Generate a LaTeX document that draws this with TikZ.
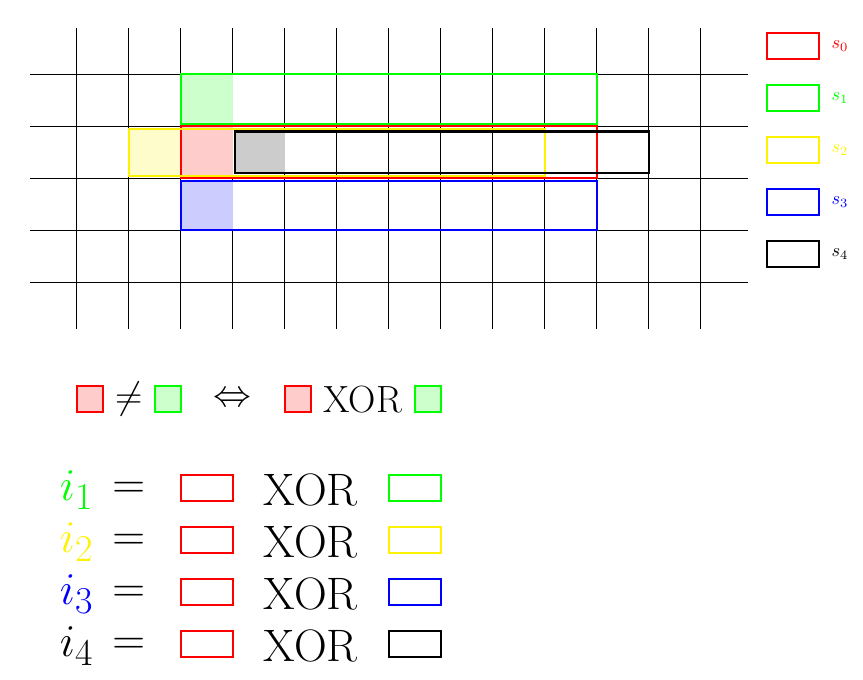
\documentclass[tikz,border=0pt]{standalone}
\usepackage{amsmath,amssymb}
\usepackage{tikz}
\usetikzlibrary{positioning}

\begin{document}
\begin{tikzpicture}[
  gridline/.style={line width=0.5pt},
  stripe/.style={very thick},
  keybox/.style={draw, very thick, minimum width=1cm, minimum height=0.5cm, inner sep=0pt},
  bitbox/.style={draw, very thick, minimum size=0.5cm, inner sep=0pt}
]
  \useasboundingbox (-1.475,-7.63) rectangle (15.12,5.43);
  \foreach \x in {0,...,12} \draw[gridline] (\x,-0.9) -- (\x,4.9);
  \foreach \y in {0,...,4} \draw[gridline] (-0.9,\y) -- (12.9,\y);

  \fill[green!20] (2,3.05) rectangle (3,4);
  \fill[red!20] (2,2) rectangle (3,3);
  \fill[yellow!20] (1,2.05) rectangle (2,2.95);
  \fill[blue!20] (2,1) rectangle (3,1.95);
  \fill[black!20] (3.05,2.1) rectangle (4,2.9);
  \draw[stripe, red] (2,2) rectangle (10,3);
  \draw[stripe, green] (2,3.05) rectangle (10,4);
  \draw[stripe, yellow] (1,2.05) rectangle (9,2.95);
  \draw[stripe, blue] (2,1) rectangle (10,1.95);
  \draw[stripe, black] (3.05,2.1) rectangle (11,2.9);

  \foreach \col [count=\k from 0] in {red,green,yellow,blue,black} {
    \node[keybox, draw=\col] (key\k) at (13.77,4.55-\k) {};
    \node[text=\col, right=0.1cm of key\k] (lab\k) {$s_\k$};
  }

  \node[bitbox, draw=red, fill=red!20] (pa) at (0.25,-2.25) {};
  \node (neq) at (1,-2.25) {\huge $\neq$};
  \node[bitbox, draw=green, fill=green!20] (pb) at (1.75,-2.25) {};
  \node (iff) at (3,-2.25) {\huge $\Leftrightarrow$};
  \node[bitbox, draw=red, fill=red!20] (qa) at (4.25,-2.25) {};
  \node (xor) at (5.5,-2.25) {\huge XOR};
  \node[bitbox, draw=green, fill=green!20] (qb) at (6.75,-2.25) {};

  \foreach \col [count=\k] in {green,yellow,blue,black} {
    \node[text=\col] (i\k) at (0,-3-\k) {\Huge $i_\k$};
    \node (eq\k) at (1,-3-\k) {\Huge $=$};
    \node[keybox, draw=red] (ra\k) at (2.5,-2.95-\k) {};
    \node (x\k) at (4.5,-3-\k) {\Huge XOR};
    \node[keybox, draw=\col] (rb\k) at (6.5,-2.95-\k) {};
  }
\end{tikzpicture}
\end{document}
